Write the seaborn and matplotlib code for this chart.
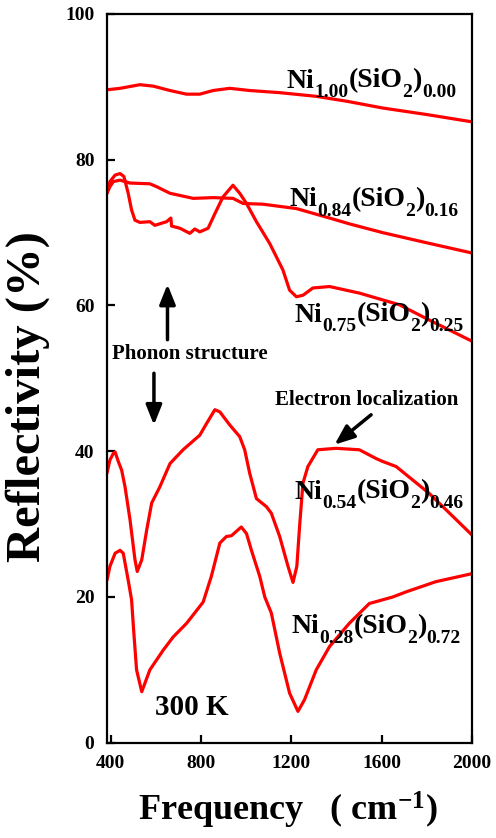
import matplotlib
matplotlib.use("Agg")
import matplotlib.pyplot as plt
import seaborn as sns
import pandas as pd

# Infrared reflectivity spectra of Ni(SiO2) granular films at 300 K
freq_100 = [383, 441, 529, 588, 662, 735, 794, 853, 927, 1015, 1150, 1310, 1450, 1604, 1800, 2000]
refl_100 = [89.6, 89.8, 90.3, 90.1, 89.5, 89.0, 89.0, 89.5, 89.8, 89.5, 89.2, 88.7, 88.0, 87.1, 86.2, 85.2]

freq_084 = [383, 396, 411, 441, 485, 573, 603, 662, 765, 853, 941, 986, 1074, 1148, 1222,
            1369, 1457, 1604, 1800, 2000]
refl_084 = [75.4, 76.3, 77.0, 77.2, 76.8, 76.7, 76.3, 75.4, 74.7, 74.8, 74.7, 74.0, 73.9, 73.6, 73.3,
            72.0, 71.2, 70.0, 68.6, 67.2]

freq_075 = [383, 396, 419, 441, 458, 477, 492, 507, 529, 573, 595, 647, 666, 669, 706, 750, 772,
            794, 831, 861, 897, 941, 971, 1001, 1045, 1104, 1162, 1192, 1222, 1251, 1295, 1369,
            1501, 1678, 1811, 2000]
refl_075 = [75.4, 77.0, 77.9, 78.1, 77.7, 75.4, 73.1, 71.7, 71.4, 71.5, 71.0, 71.5, 72.0, 70.9, 70.6,
            69.9, 70.5, 70.1, 70.6, 72.6, 74.9, 76.5, 75.4, 74.0, 71.5, 68.5, 64.9, 62.1, 61.2, 61.4,
            62.4, 62.6, 61.7, 60.1, 58.0, 55.1]

freq_054 = [383, 396, 411, 419, 433, 448, 463, 485, 507, 517, 537, 559, 581, 617, 662, 720, 794,
            824, 861, 883, 927, 971, 993, 1015, 1045, 1089, 1111, 1148, 1185, 1207, 1224, 1236,
            1251, 1273, 1317, 1398, 1501, 1575, 1604, 1664, 1811, 2000]
refl_054 = [37.0, 38.8, 39.7, 39.9, 38.6, 37.4, 35.1, 30.6, 25.1, 23.5, 25.1, 29.2, 32.9, 35.1, 38.3,
            40.2, 42.2, 43.8, 45.7, 45.4, 43.6, 42.0, 40.2, 37.0, 33.5, 32.4, 31.5, 28.3, 24.2, 22.0,
            24.2, 29.6, 35.6, 37.9, 40.2, 40.4, 40.2, 39.0, 38.6, 37.9, 34.2, 28.5]

freq_028 = [383, 396, 419, 441, 455, 477, 492, 500, 514, 537, 573, 632, 676, 736, 809, 845, 883,
            912, 934, 978, 1001, 1023, 1060, 1082, 1111, 1148, 1192, 1229, 1258, 1310, 1369, 1457,
            1545, 1649, 1708, 1840, 2000]
refl_028 = [22.3, 24.2, 26.0, 26.4, 26.0, 22.3, 19.6, 15.9, 10.0, 7.0, 10.0, 12.7, 14.5, 16.4, 19.3,
            22.8, 27.4, 28.3, 28.4, 29.6, 28.7, 26.4, 22.8, 20.0, 17.8, 12.3, 6.8, 4.3, 5.9, 10.0,
            13.2, 16.4, 19.1, 20.0, 20.7, 22.1, 23.2]

# composition x in Ni_x(SiO2)_(1-x)
ni_fraction = ["1.00", "0.84", "0.75", "0.54", "0.28"]
sio2_fraction = ["0.00", "0.16", "0.25", "0.46", "0.72"]
label_x = [1179, 1192, 1214, 1214, 1200]
label_y = [89.9, 73.6, 57.8, 33.5, 15.0]

x_ticks = [400, 800, 1200, 1600, 2000]
y_ticks = [0, 20, 40, 60, 80, 100]

series = [(freq_100, refl_100), (freq_084, refl_084), (freq_075, refl_075),
          (freq_054, refl_054), (freq_028, refl_028)]

sns.set_theme(style="ticks")
plt.rcParams["font.family"] = ["Liberation Serif", "DejaVu Serif"]
plt.rcParams["font.weight"] = "bold"
plt.rcParams["text.color"] = "black"
plt.rcParams["axes.labelcolor"] = "black"
plt.rcParams["mathtext.fontset"] = "custom"
plt.rcParams["mathtext.rm"] = "Liberation Serif:bold"
plt.rcParams["mathtext.bf"] = "Liberation Serif:bold"
plt.rcParams["mathtext.it"] = "Liberation Serif:bold:italic"

fig = plt.figure(figsize=(4.96, 8.38), dpi=100)
ax = fig.add_axes([0.2157, 0.1137, 0.7359, 0.8696])

for fx, ry in series:
    df = pd.DataFrame({"freq": fx, "refl": ry})
    sns.lineplot(data=df, x="freq", y="refl", ax=ax, color="#ff0000", lw=2.3,
                 sort=False, estimator=None)

ax.set_xlim(383, 2000)
ax.set_ylim(0, 100)
ax.set_xticks(x_ticks)
ax.set_yticks(y_ticks)
ax.set_xlabel("")
ax.set_ylabel("")
for s in ax.spines.values():
    s.set_linewidth(1.6)
    s.set_color("black")
ax.tick_params(direction="in", length=6, width=1.6, labelsize=14, pad=9,
               top=False, right=False, colors="black", labelcolor="black")
for t in ax.get_xticklabels() + ax.get_yticklabels():
    t.set_fontweight("bold")

MAIN_SIZE = 20
SUB_SIZE = 14
SUB_DROP = 6.8  # points below the baseline


def formula(x0, y0, pieces):
    """Write a chemical formula piece by piece with lowered subscripts."""
    prev = ax.text(x0, y0, pieces[0][0], fontsize=MAIN_SIZE, fontweight="bold",
                   ha="left", va="baseline")
    for text, is_sub in pieces[1:]:
        prev = ax.annotate(text, xy=(1, y0), xycoords=(prev, "data"),
                           xytext=(0, -SUB_DROP if is_sub else 0), textcoords="offset points",
                           fontsize=SUB_SIZE if is_sub else MAIN_SIZE, fontweight="bold",
                           ha="left", va="baseline")


for nf, sf, lx, ly in zip(ni_fraction, sio2_fraction, label_x, label_y):
    formula(lx, ly, [("Ni", False), (nf, True), ("(SiO", False), ("2", True),
                     (")", False), (sf, True)])

ax.text(404, 52.6, "Phonon structure", fontsize=15, fontweight="bold", ha="left", va="baseline")
ax.text(1126, 46.3, "Electron localization", fontsize=15, fontweight="bold", ha="left", va="baseline")
ax.text(595, 3.8, "300 K", fontsize=21, fontweight="bold", ha="left", va="baseline")

arrow_kw = dict(arrowstyle="-|>,head_length=1.0,head_width=0.4", color="black", lw=2.5,
                shrinkA=0, shrinkB=0)
ax.annotate("", xy=(651, 62.9), xytext=(651, 55.3), arrowprops=arrow_kw)
ax.annotate("", xy=(591, 43.6), xytext=(591, 50.7), arrowprops=arrow_kw)
ax.annotate("", xy=(1391, 40.9), xytext=(1553, 45.0), arrowprops=arrow_kw)

fig.text(28 / 496, 1 - 397 / 838, "Reflectivity (%)", rotation=90, fontsize=35,
         fontweight="bold", ha="center", va="center")
fig.text(288 / 496, 1 - 810 / 838, r"Frequency   ( cm$^{-1}$)", fontsize=26,
         fontweight="bold", ha="center", va="center")

fig.savefig("out.png", dpi=100)
